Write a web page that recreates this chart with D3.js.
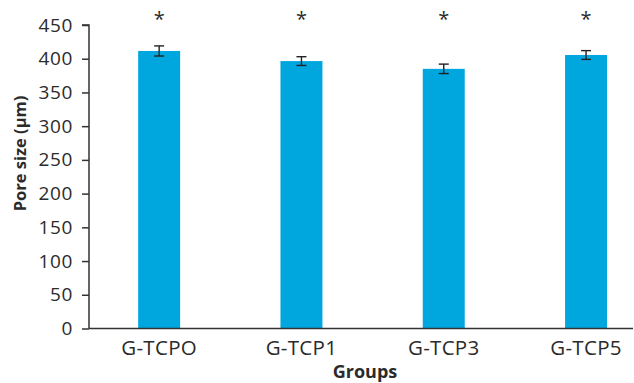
<!DOCTYPE html>
<html>
<head>
<meta charset="utf-8">
<script src="https://cdn.jsdelivr.net/npm/d3@7"></script>
<style>
  html, body { margin: 0; padding: 0; background: #fff; }
  svg { display: block; }
  text { font-family: "Open Sans", "Noto Sans", sans-serif; fill: #2b2b2b; }
</style>
</head>
<body>
<svg id="chart" width="634" height="383"></svg>
<script>
// Mean pore size per scaffold group, with error (±) and significance marks
const groups = ["G-TCPO", "G-TCP1", "G-TCP3", "G-TCP5"];
const poreSize = [411.5, 396.5, 385, 405.5];
const poreErr = [7.5, 6.5, 7, 6.5];
const significance = ["*", "*", "*", "*"];
const yTicks = [0, 50, 100, 150, 200, 250, 300, 350, 400, 450];

const svg = d3.select("#chart");
const margin = { left: 89, top: 25, bottom: 328.5 };
const step = 142.3;

const x = d3.scaleBand()
  .domain(groups)
  .range([margin.left - 1, margin.left - 1 + step * groups.length])
  .paddingInner(0.705)
  .paddingOuter(0.3525);

const y = d3.scaleLinear().domain([0, 450]).range([margin.bottom, margin.top]);

// Bars
svg.append("g").selectAll("rect")
  .data(groups)
  .join("rect")
  .attr("x", d => x(d))
  .attr("width", x.bandwidth())
  .attr("y", (d, i) => y(poreSize[i]))
  .attr("height", (d, i) => y(0) - y(poreSize[i]))
  .attr("fill", "#00a7de");

// Error bars
const eb = svg.append("g").attr("stroke", "#222").attr("stroke-width", 1.4);
groups.forEach((g, i) => {
  const cx = x(g) + x.bandwidth() / 2;
  const hi = y(poreSize[i] + poreErr[i]);
  const lo = y(poreSize[i] - poreErr[i]);
  eb.append("line").attr("x1", cx).attr("x2", cx).attr("y1", hi).attr("y2", lo);
  eb.append("line").attr("x1", cx - 5).attr("x2", cx + 5).attr("y1", hi).attr("y2", hi);
  eb.append("line").attr("x1", cx - 5).attr("x2", cx + 5).attr("y1", lo).attr("y2", lo);
});

// Significance asterisks
svg.append("g").selectAll("text")
  .data(groups)
  .join("text")
  .attr("x", d => x(d) + x.bandwidth() / 2)
  .attr("y", 26)
  .attr("text-anchor", "middle")
  .attr("font-size", 20)
  .text((d, i) => significance[i]);

// Y axis
const yAxis = svg.append("g")
  .attr("transform", `translate(${margin.left},0)`)
  .call(d3.axisLeft(y).tickValues(yTicks).tickSize(7).tickPadding(9));
yAxis.selectAll("text").attr("font-size", 19).attr("letter-spacing", 0.6)
  .attr("font-family", "'Open Sans', sans-serif").attr("fill", "#2b2b2b");
yAxis.selectAll("line").attr("stroke", "#333").attr("stroke-width", 1.5);
yAxis.select(".domain").attr("stroke", "#333").attr("stroke-width", 1.5)
  .attr("d", `M${-7},${y(450)}H0V${y(0)}`);

// X axis baseline and labels
svg.append("line")
  .attr("x1", margin.left).attr("x2", 633)
  .attr("y1", y(0)).attr("y2", y(0))
  .attr("stroke", "#333").attr("stroke-width", 1.5);

svg.append("g").selectAll("text")
  .data(groups)
  .join("text")
  .attr("x", d => x(d) + x.bandwidth() / 2)
  .attr("y", 355)
  .attr("text-anchor", "middle")
  .attr("font-size", 20.5)
  .attr("letter-spacing", 0.3)
  .text(d => d);

// Axis titles
svg.append("text")
  .attr("x", 365).attr("y", 378)
  .attr("text-anchor", "middle")
  .attr("font-size", 18)
  .attr("font-weight", "bold")
  .text("Groups");

svg.append("text")
  .attr("transform", `translate(26,153.5) rotate(-90)`)
  .attr("text-anchor", "middle")
  .attr("font-size", 16.5)
  .attr("font-weight", "bold")
  .text("Pore size (μm)");
</script>
</body>
</html>
